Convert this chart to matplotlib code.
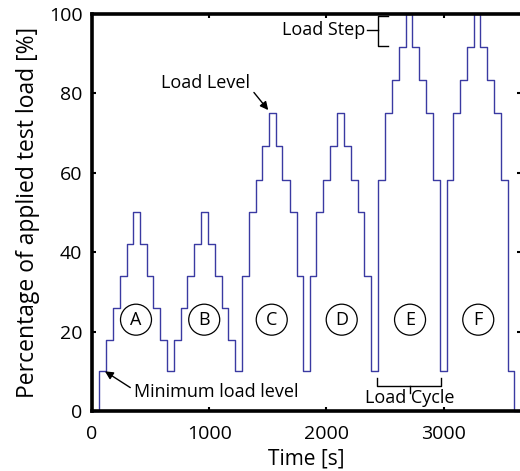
import numpy as np
import matplotlib.pyplot as plt

plt.rcParams['font.family'] = ['Open Sans', 'DejaVu Sans']

# step change times (s) and load level (%) held after each change
times = [0, 59, 119, 181, 238, 295, 352, 409, 466, 522, 579, 642, 699, 756, 813,
         872, 929, 986, 1049, 1106, 1162, 1219, 1282, 1342, 1396, 1452, 1509, 1566,
         1623, 1689, 1745, 1802, 1859, 1910, 1973, 2030, 2090, 2147, 2206, 2266,
         2323, 2380, 2442, 2502, 2559, 2619, 2676, 2732, 2789, 2849, 2912, 2968,
         3025, 3079, 3139, 3196, 3256, 3313, 3372, 3429, 3489, 3552, 3603, 3660]
levels = [0,
          10, 18, 26, 34, 42, 50, 42, 34, 26, 18,
          10, 18, 26, 34, 42, 50, 42, 34, 26, 18,
          10, 34, 50, 58.3, 66.7, 75, 66.7, 58.3, 50, 34,
          10, 34, 50, 58.3, 66.7, 75, 66.7, 58.3, 50, 34,
          10, 58.3, 75, 83.3, 91.7, 100, 91.7, 83.3, 75, 58.3,
          10, 58.3, 75, 83.3, 91.7, 100, 91.7, 83.3, 75, 58.3,
          10, 0, 0]

cycle_names = ['A', 'B', 'C', 'D', 'E', 'F']
cycle_x = [375, 957, 1533, 2130, 2713, 3295]
cycle_y = 23

fig = plt.figure(figsize=(5.2, 4.71), dpi=100)
ax = fig.add_axes([0.177, 0.1274, 0.825, 0.8429])

ax.plot(times, levels, drawstyle='steps-post', color='#3a3aa2', lw=1.0, clip_on=False)

ax.set_xlim(0, 3660)
ax.set_ylim(0, 100)
ax.set_xticks([0, 1000, 2000, 3000])
ax.set_yticks([0, 20, 40, 60, 80, 100])
ax.tick_params(direction='in', top=True, right=True, length=3, width=1.5,
               labelsize=14, colors='black')
ax.tick_params(axis='x', pad=10)
ax.tick_params(axis='y', pad=7)
for s in ax.spines.values():
    s.set_linewidth(2.6)

ax.set_xlabel('Time [s]', fontsize=15, labelpad=4)
ax.set_ylabel('Percentage of applied test load [%]', fontsize=16.5, labelpad=6)

# cycle labels in circles
for name, cx in zip(cycle_names, cycle_x):
    ax.text(cx, cycle_y, name, fontsize=13, ha='center', va='center',
            bbox=dict(boxstyle='circle,pad=0.36', fc='white', ec='black', lw=0.9))

# annotations
ax.annotate('Load Level', xy=(1503, 75.8), xytext=(1350, 82.5), fontsize=13,
            ha='right', va='center',
            arrowprops=dict(arrowstyle='-|>', color='black', lw=1.0,
                            mutation_scale=12, shrinkA=1, shrinkB=0,
                            relpos=(1.0, 0.25)))
ax.annotate('Minimum load level', xy=(110, 10), xytext=(360, 4.8), fontsize=13,
            ha='left', va='center',
            arrowprops=dict(arrowstyle='-|>', color='black', lw=1.0,
                            mutation_scale=12, shrinkA=1, shrinkB=0,
                            relpos=(0.0, 0.6)))

# load step bracket
ax.plot([2522, 2442, 2442, 2522], [99.6, 99.6, 92, 92], color='black', lw=1.0)
ax.plot([2348, 2442], [96, 96], color='black', lw=1.0)
ax.text(2335, 96, 'Load Step', fontsize=13, ha='right', va='center')

# load cycle bracket
ax.plot([2428, 2428, 2977, 2977], [8.4, 6.3, 6.3, 8.4], color='black', lw=1.0)
ax.plot([2713, 2713], [6.3, 4.5], color='black', lw=1.0)
ax.text(2713, 3.2, 'Load Cycle', fontsize=13, ha='center', va='center')

fig.savefig('out.png', dpi=100)
